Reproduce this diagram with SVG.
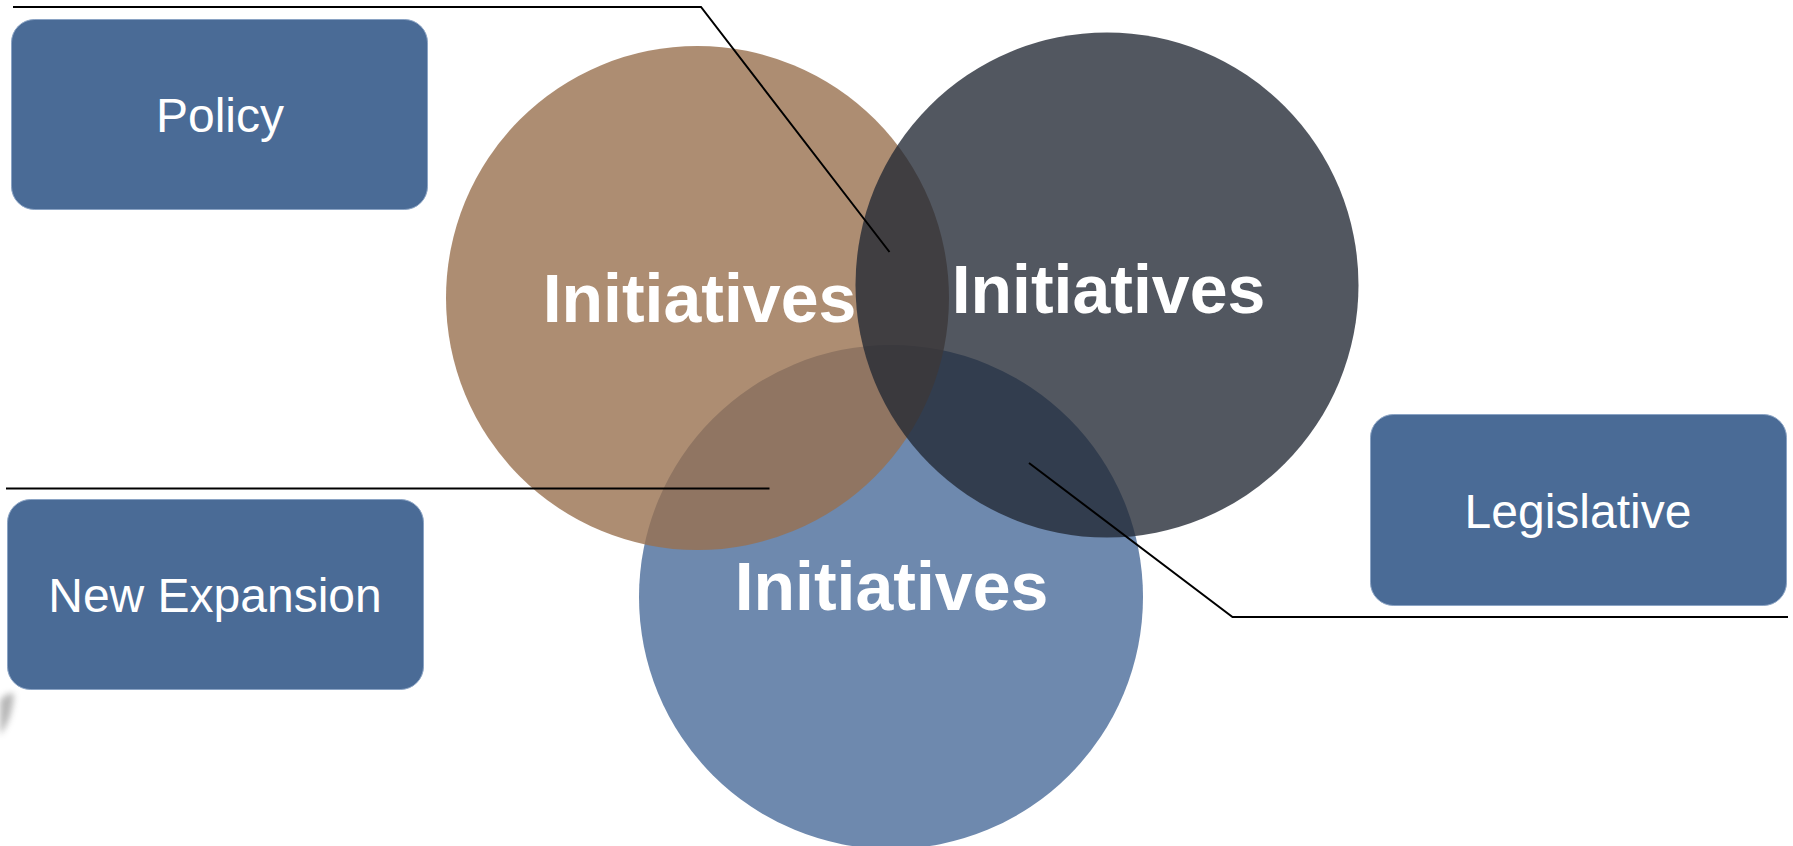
<svg xmlns="http://www.w3.org/2000/svg" width="1793" height="846" viewBox="0 0 1793 846">
<style>
.box{fill:#4A6B96;stroke:#8AA3C4;stroke-width:1}
.lbl{font-family:"Liberation Sans",Arial,sans-serif;font-size:48px;fill:#FFFFFF;text-anchor:middle}
.init{font-family:"Liberation Sans",Arial,sans-serif;font-size:68px;font-weight:bold;fill:#FFFFFF;text-anchor:middle}
.conn{fill:none;stroke:#000000;stroke-width:2}
</style>
<defs>
<filter id="blur" x="-50%" y="-50%" width="200%" height="200%"><feGaussianBlur stdDeviation="3"/></filter>
</defs>
<rect width="1793" height="846" fill="#FFFFFF"/>
<path d="M0,700 Q10,690 14,695 Q12,720 0,735 Z" fill="#9A9A9A" opacity="0.7" filter="url(#blur)"/>
<g id="circle-blue">
<ellipse cx="891" cy="597" rx="252" ry="252" fill="#6E89AE"/>
</g>
<g id="circle-brown">
<ellipse cx="697.5" cy="298" rx="251.5" ry="252" fill="#98704F" fill-opacity="0.8"/>
</g>
<g id="circle-dark">
<ellipse cx="1107" cy="285" rx="251.5" ry="252.5" fill="#212833" fill-opacity="0.78"/>
</g>
<g id="text-brown"><text class="init" x="699.5" y="321.5">Initiatives</text></g>
<g id="text-dark"><text class="init" x="1108.5" y="312.5">Initiatives</text></g>
<g id="text-blue"><text class="init" x="891.5" y="610">Initiatives</text></g>
<g id="connectors">
<polyline class="conn" points="13,7 701,7 889.5,252"/>
<polyline class="conn" points="6,488.5 769.5,488.5"/>
<polyline class="conn" points="1029,463 1232.5,617 1788,617"/>
</g>
<g id="node-policy">
<rect class="box" x="11.5" y="19.5" width="416" height="190" rx="23" ry="23"/>
<text class="lbl" x="220" y="132">Policy</text>
</g>
<g id="node-new-expansion">
<rect class="box" x="7.5" y="499.5" width="416" height="190" rx="23" ry="23"/>
<text class="lbl" x="215" y="612">New Expansion</text>
</g>
<g id="node-legislative">
<rect class="box" x="1370.5" y="414.5" width="416" height="191" rx="23" ry="23"/>
<text class="lbl" x="1578" y="527.5">Legislative</text>
</g>
</svg>
